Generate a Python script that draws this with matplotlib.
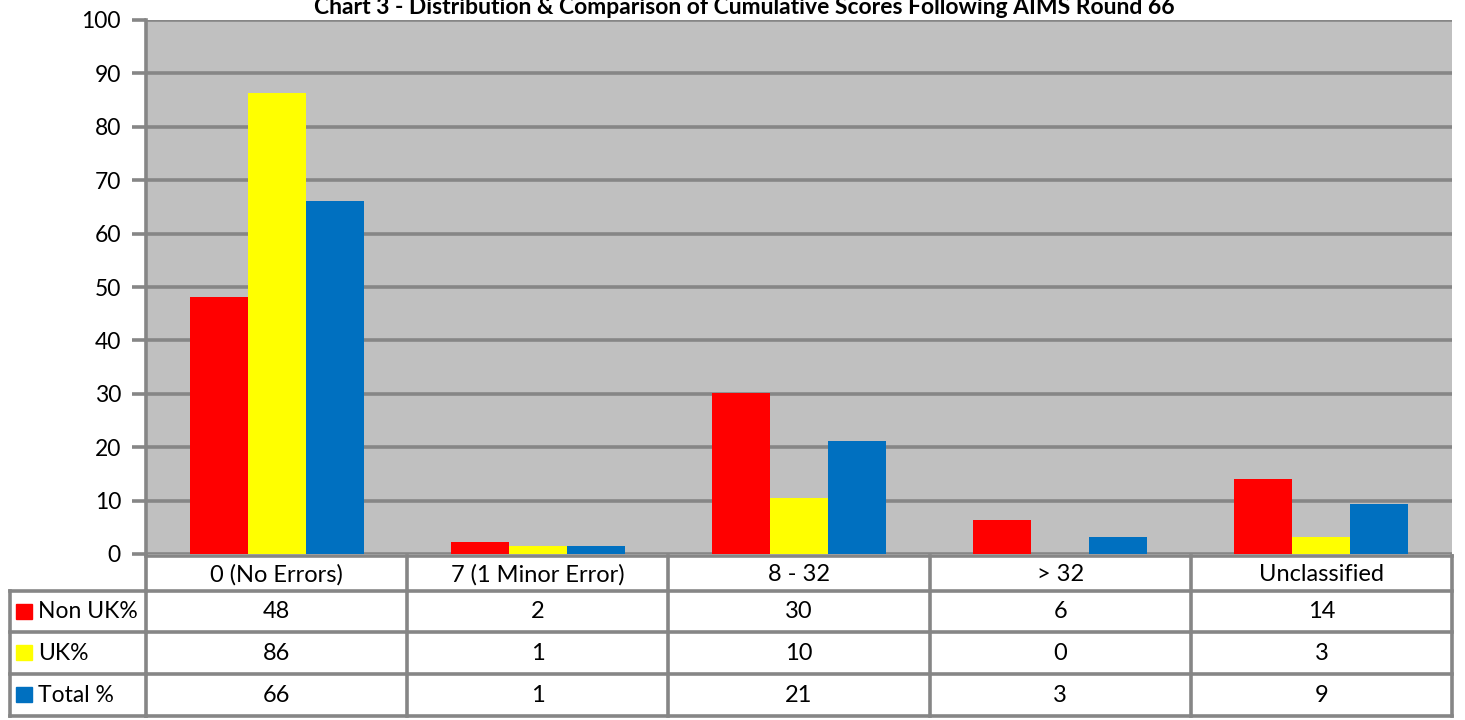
import matplotlib
matplotlib.use("Agg")
import matplotlib.pyplot as plt
import matplotlib.transforms as mtransforms
from matplotlib.patches import Rectangle
import numpy as np

categories = ["0 (No Errors)", "7 (1 Minor Error)", "8 - 32", "> 32", "Unclassified"]
series_names = ["Non UK%", "UK%", "Total %"]
non_uk = [48.1, 2.2, 30.1, 6.4, 14.0]
uk = [86.3, 1.5, 10.5, 0.0, 3.2]
total = [66.1, 1.5, 21.2, 3.2, 9.4]
table_non_uk = ["48", "2", "30", "6", "14"]
table_uk = ["86", "1", "10", "0", "3"]
table_total = ["66", "1", "21", "3", "9"]
colors = ["#FF0000", "#FFFF00", "#0070C0"]
title = "Chart 3 - Distribution & Comparison of Cumulative Scores Following AIMS Round 66"

plt.rcParams['font.family'] = ['Lato', 'DejaVu Sans']
W, H = 1465, 720
fig = plt.figure(figsize=(W / 100, H / 100), dpi=100)
fig.patch.set_facecolor("white")

def fx(px):
    return px / W

def fy(py):
    return 1 - py / H

ax = fig.add_axes([fx(146), fy(554), fx(1452) - fx(146), fy(20) - fy(554)])
ax.set_facecolor("#C0C0C0")
grid_c = "#868686"

x = np.arange(len(categories))
bw = 0.222
for i, (vals, c) in enumerate(zip([non_uk, uk, total], colors)):
    ax.bar(x + (i - 1) * bw, vals, width=bw, color=c, edgecolor="none", zorder=3)

ax.set_xlim(-0.5, len(categories) - 0.5)
ax.set_ylim(0, 100)
ax.set_yticks(np.arange(0, 101, 10))
ax.yaxis.grid(True, color=grid_c, linewidth=2.6, zorder=1)
ax.set_axisbelow(True)
ax.set_xticks([])
for s in ["top", "right", "bottom"]:
    ax.spines[s].set_visible(False)
ax.spines["left"].set_color(grid_c)
ax.spines["left"].set_linewidth(2.6)
ax.tick_params(axis="y", length=10, width=2.6, color=grid_c, labelsize=16.5, pad=8, labelcolor="black")

fig.text(fx(744), fy(8), title, ha="center", va="center", fontsize=16.5, fontweight="bold")

# table
blend = mtransforms.blended_transform_factory(ax.transData, fig.transFigure)
row_edges = [556, 591, 632, 674, 716]
lw = 2.6
col_bounds = [i - 0.5 for i in range(len(categories) + 1)]

def hline(y, x0, x1, trans):
    ax.add_line(plt.Line2D([x0, x1], [fy(y), fy(y)], transform=trans, color=grid_c, lw=lw, clip_on=False))

def vline(xv, y0, y1, trans):
    ax.add_line(plt.Line2D([xv, xv], [fy(y0), fy(y1)], transform=trans, color=grid_c, lw=lw, clip_on=False))

for yy in row_edges[1:]:
    ax.add_line(plt.Line2D([fx(10), fx(146)], [fy(yy), fy(yy)], transform=fig.transFigure,
                           color=grid_c, lw=lw, clip_on=False))
    hline(yy, col_bounds[0], col_bounds[-1], blend)
hline(row_edges[0], col_bounds[0], col_bounds[-1], blend)
for xb in col_bounds:
    vline(xb, row_edges[0], row_edges[-1], blend)
ax.add_line(plt.Line2D([fx(10), fx(10)], [fy(row_edges[1]), fy(row_edges[-1])], transform=fig.transFigure,
                       color=grid_c, lw=lw, clip_on=False))

fs = 17
for j, cat in enumerate(categories):
    ax.text(j, fy((row_edges[0] + row_edges[1]) / 2 + 1), cat, transform=blend, ha="center", va="center", fontsize=fs)

rows = [table_non_uk, table_uk, table_total]
for r, (name, vals, c) in enumerate(zip(series_names, rows, colors)):
    yc = (row_edges[r + 1] + row_edges[r + 2]) / 2
    fig.patches.append(Rectangle((fx(16), fy(yc + 7)), fx(16) - fx(0), fy(0) - fy(15),
                                 transform=fig.transFigure, color=c, figure=fig))
    fig.text(fx(38), fy(yc), name, ha="left", va="center", fontsize=16.5)
    for j, v in enumerate(vals):
        ax.text(j, fy(yc), v, transform=blend, ha="center", va="center", fontsize=fs)

fig.savefig("out.png", dpi=100, facecolor="white")
